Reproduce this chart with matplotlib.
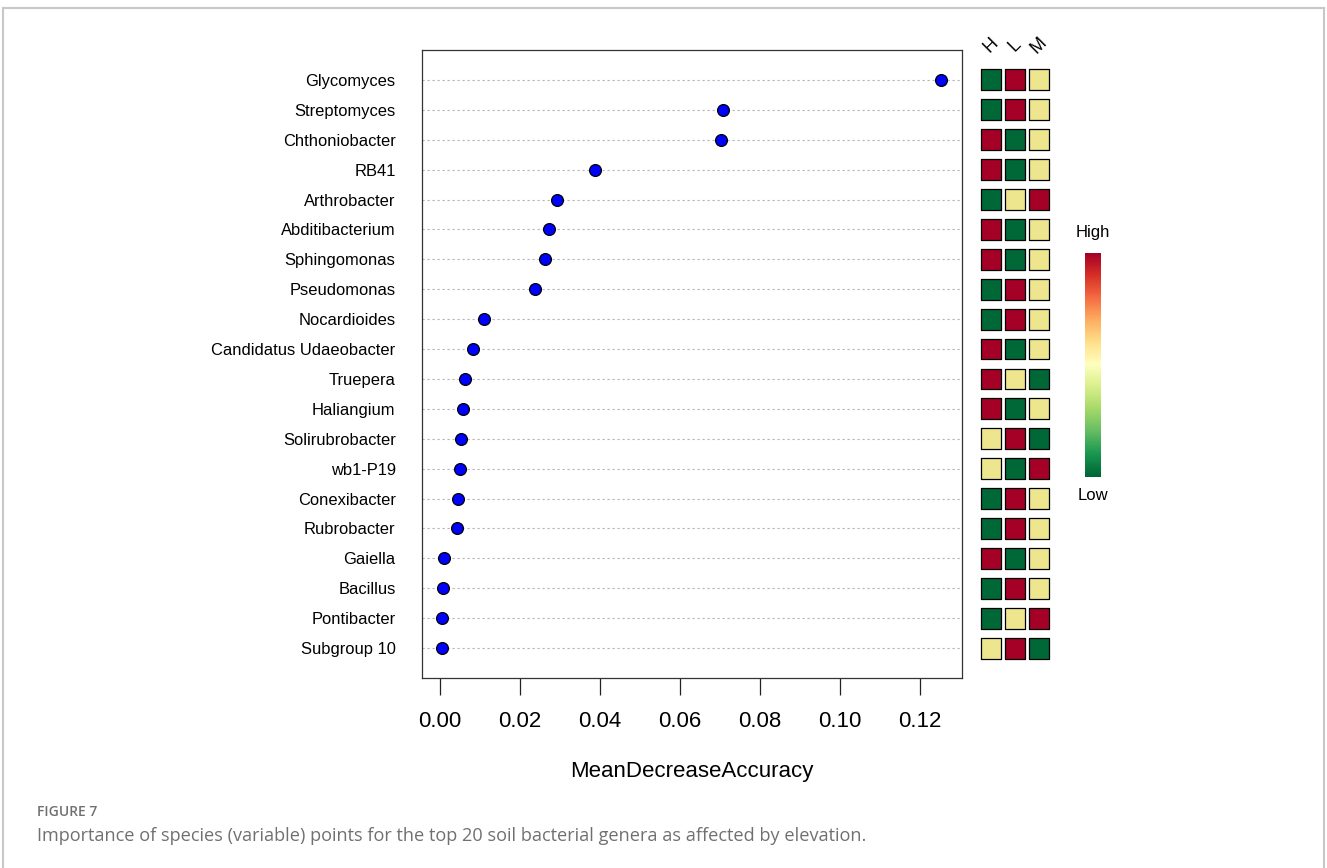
import numpy as np
import matplotlib
matplotlib.use("Agg")
import matplotlib.pyplot as plt
from matplotlib.colors import ListedColormap
from matplotlib.lines import Line2D

plt.rcParams['font.family'] = ['Liberation Sans', 'DejaVu Sans']

# Top 20 genera, ordered from most to least important
genera = ['Glycomyces', 'Streptomyces', 'Chthoniobacter', 'RB41', 'Arthrobacter',
          'Abditibacterium', 'Sphingomonas', 'Pseudomonas', 'Nocardioides',
          'Candidatus Udaeobacter', 'Truepera', 'Haliangium', 'Solirubrobacter',
          'wb1-P19', 'Conexibacter', 'Rubrobacter', 'Gaiella', 'Bacillus',
          'Pontibacter', 'Subgroup 10']
mda = [0.1253, 0.0708, 0.0703, 0.0388, 0.0293, 0.0273, 0.0263, 0.0238, 0.0110,
       0.0083, 0.0063, 0.0058, 0.0053, 0.0050, 0.0045, 0.0043, 0.0010, 0.0008,
       0.0005, 0.0005]

# relative abundance rank per elevation group: 1 = low, 2 = middle, 3 = high
groups = ['H', 'L', 'M']
rank_H = [1, 1, 3, 3, 1, 3, 3, 1, 1, 3, 3, 3, 2, 2, 1, 1, 3, 1, 1, 2]
rank_L = [3, 3, 1, 1, 2, 1, 1, 3, 3, 1, 2, 1, 3, 1, 3, 3, 1, 3, 2, 3]
rank_M = [2, 2, 2, 2, 3, 2, 2, 2, 2, 2, 1, 2, 1, 3, 2, 2, 2, 2, 3, 1]

xticks = [0.00, 0.02, 0.04, 0.06, 0.08, 0.10, 0.12]

W, H = 1327, 868
fig = plt.figure(figsize=(W / 100, H / 100), dpi=100)


def px_axes(x0, y0, x1, y1):
    return fig.add_axes([x0 / W, 1 - y1 / H, (x1 - x0) / W, (y1 - y0) / H])


n = len(genera)
ypos = np.arange(n, 0, -1)

# dot chart
ax = px_axes(422, 50, 962, 678)
for y in ypos:
    ax.axhline(y, color='#b5b5b5', lw=0.8, ls=(0, (2, 2.5)), zorder=1)
ax.plot(mda, ypos, 'o', ms=8.5, mfc='#0000ff', mec='black', mew=0.9, zorder=3)
ax.set_xlim(-0.0045, 0.1305)
ax.set_ylim(0, n + 1)
ax.set_yticks(ypos)
ax.set_yticklabels(genera, fontsize=11.9)
ax.tick_params(axis='y', length=0, pad=19)
ax.set_xticks(xticks)
ax.set_xticklabels([f'{v:.2f}' for v in xticks], fontsize=16)
ax.tick_params(axis='x', length=12, width=0.9, pad=12, color='#222222')
ax.set_xlabel('MeanDecreaseAccuracy', fontsize=16, labelpad=21)
for s in ax.spines.values():
    s.set_color('#333333')
    s.set_linewidth(0.9)

# abundance heatmap
cmap3 = ListedColormap(['#006837', '#ede68f', '#a50026'])
hx = px_axes(979, 50, 1051, 678)
for j, ranks in enumerate([rank_H, rank_L, rank_M]):
    hx.scatter(np.full(n, j), ypos, c=ranks, cmap=cmap3, vmin=1, vmax=3,
               marker='s', s=225, edgecolors='black', linewidths=0.9)
    hx.text(j, n + 1.15, groups[j], rotation=45, ha='center', va='center',
            fontsize=13, clip_on=False)
hx.set_xlim(-0.5, 2.5)
hx.set_ylim(0, n + 1)
hx.axis('off')

# colour key
cx = px_axes(1085, 253, 1101, 477)
cx.imshow(np.linspace(0, 1, 100)[::-1, None], aspect='auto', cmap='RdYlGn_r')
cx.axis('off')
fig.text(1093 / W, 1 - 233 / H, 'High', ha='center', va='center', fontsize=12)
fig.text(1093 / W, 1 - 496 / H, 'Low', ha='center', va='center', fontsize=12)

# caption
fig.text(37 / W, 1 - 812 / H, 'FIGURE 7', fontsize=10, color='#707070',
         family='Open Sans', fontweight='semibold', va='center')
fig.text(37 / W, 1 - 836 / H,
         'Importance of species (variable) points for the top 20 soil bacterial '
         'genera as affected by elevation.',
         fontsize=13.1, color='#707070', family='Open Sans', va='center')

# page frame
frame = dict(color='#c8c8c8', lw=1.5)
fig.add_artist(Line2D([3.5 / W, 3.5 / W], [0, 1 - 8 / H], **frame))
fig.add_artist(Line2D([3.5 / W, 1324 / W], [1 - 8 / H, 1 - 8 / H], **frame))
fig.add_artist(Line2D([1324 / W, 1324 / W], [0, 1 - 8 / H], **frame))

fig.savefig('out.png', dpi=100)
